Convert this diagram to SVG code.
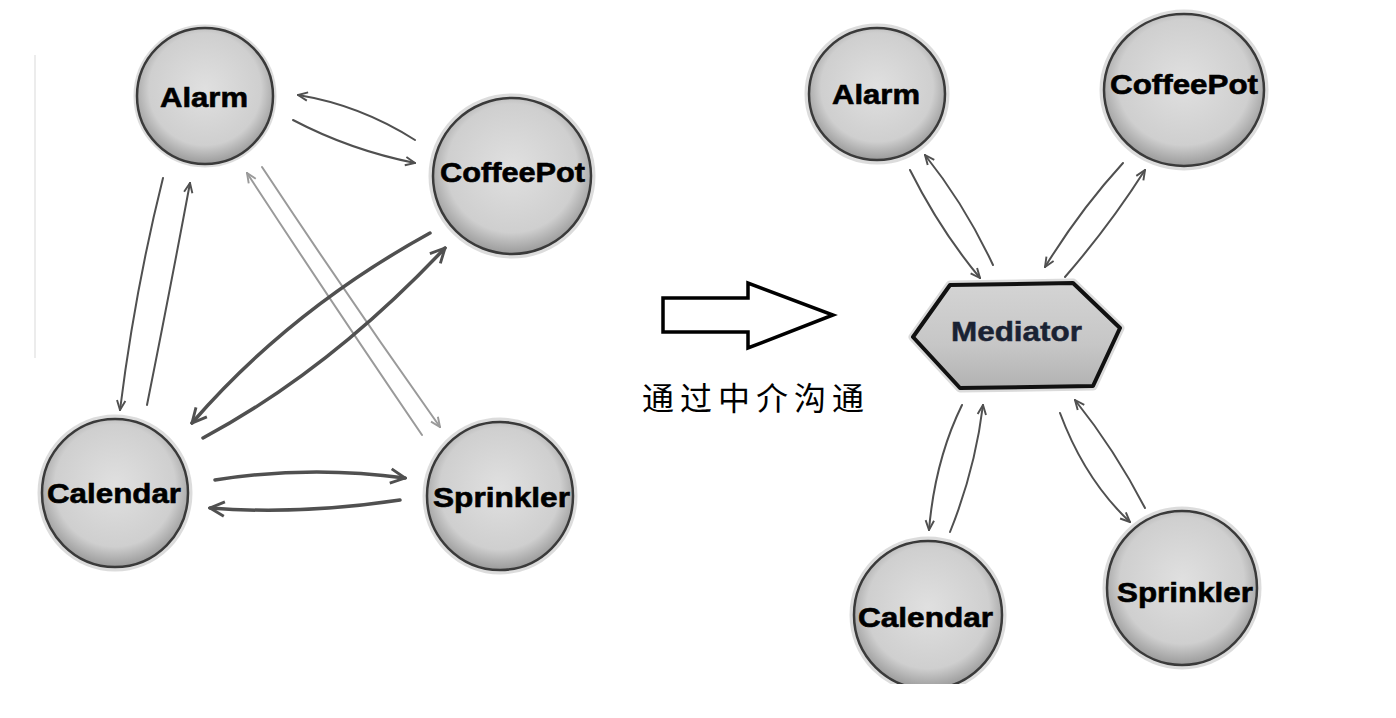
<svg xmlns="http://www.w3.org/2000/svg" width="1396" height="718" viewBox="0 0 1396 718">
<style>
.ball{fill:url(#g);stroke:#3a3a3a;stroke-width:2.5}
.halo{fill:none;stroke:#c4c4c4;stroke-width:5;opacity:0.6}
.lbl{font-family:"Liberation Sans",Arial,sans-serif;font-weight:bold;font-size:28px;fill:#000;stroke:#000;stroke-width:0.6}
.c{fill:none;stroke:#505050;stroke-width:2;stroke-linecap:round}
.thick{stroke-width:3.5}
.light{fill:none;stroke:#9a9a9a;stroke-width:2;stroke-linecap:round}
</style>
<defs>
<radialGradient id="g" cx="0.5" cy="0.45" r="0.55">
<stop offset="0" stop-color="#e0e0e0"/>
<stop offset="0.75" stop-color="#cfcfcf"/>
<stop offset="1" stop-color="#9a9a9a"/>
</radialGradient>
<linearGradient id="hg" x1="0" y1="0" x2="0" y2="1">
<stop offset="0" stop-color="#d4d4d4"/>
<stop offset="0.6" stop-color="#c6c6c6"/>
<stop offset="1" stop-color="#b2b2b2"/>
</linearGradient>
<marker id="ad" viewBox="0 0 10 10" refX="9" refY="5" markerWidth="12" markerHeight="12" orient="auto" markerUnits="userSpaceOnUse">
<path d="M1,1.5 L9,5 L1,8.5" fill="none" stroke="#505050" stroke-width="1.6"/>
</marker>
<marker id="adt" viewBox="0 0 10 10" refX="9" refY="5" markerWidth="18" markerHeight="18" orient="auto" markerUnits="userSpaceOnUse">
<path d="M1,1 L9,5 L1,9" fill="none" stroke="#505050" stroke-width="1.6"/>
</marker>
<marker id="al" viewBox="0 0 10 10" refX="9" refY="5" markerWidth="12" markerHeight="12" orient="auto" markerUnits="userSpaceOnUse">
<path d="M1,1.5 L9,5 L1,8.5" fill="none" stroke="#9a9a9a" stroke-width="1.6"/>
</marker>
<clipPath id="bottomclip"><rect x="0" y="0" width="1396" height="684"/></clipPath>
</defs>
<rect width="1396" height="718" fill="#fff"/>
<line x1="35" y1="55" x2="35" y2="358" stroke="#ececec" stroke-width="2"/>

<g id="connectors">
<path class="c" d="M415,140 Q360,105 298,95" marker-end="url(#ad)"/>
<path class="c" d="M293,120 Q350,150 415,163" marker-end="url(#ad)"/>
<path class="c" d="M163,178 Q135,290 120,410" marker-end="url(#ad)"/>
<path class="c" d="M147,405 Q170,290 190,183" marker-end="url(#ad)"/>
<path class="light" d="M262,167 Q350,300 440,427" marker-end="url(#al)"/>
<path class="light" d="M422,435 Q330,300 247,173" marker-end="url(#al)"/>
<path class="c thick" d="M430,233 Q290,310 192,423" marker-end="url(#adt)"/>
<path class="c thick" d="M203,438 Q330,370 445,248" marker-end="url(#adt)"/>
<path class="c thick" d="M215,480 Q310,465 405,478" marker-end="url(#adt)"/>
<path class="c thick" d="M400,500 Q300,515 210,508" marker-end="url(#adt)"/>

<path class="c" d="M910,170 Q940,230 980,278" marker-end="url(#ad)"/>
<path class="c" d="M993,265 Q965,205 925,155" marker-end="url(#ad)"/>
<path class="c" d="M1123,163 Q1080,210 1045,267" marker-end="url(#ad)"/>
<path class="c" d="M1065,277 Q1110,225 1145,170" marker-end="url(#ad)"/>
<path class="c" d="M962,405 Q935,460 929,530" marker-end="url(#ad)"/>
<path class="c" d="M950,532 Q975,470 983,405" marker-end="url(#ad)"/>
<path class="c" d="M1060,413 Q1085,480 1130,522" marker-end="url(#ad)"/>
<path class="c" d="M1145,508 Q1115,450 1075,400" marker-end="url(#ad)"/>
</g>

<g id="big-arrow">
<polygon points="663,298 748,298 748,283 833,315 748,348 748,332 663,332" fill="#fff" stroke="#000" stroke-width="3.5" stroke-linejoin="miter"/>
<text x="642" y="410" font-family="'Noto Sans CJK SC',sans-serif" font-size="32" letter-spacing="6" fill="#000">通过中介沟通</text>
</g>

<g id="left-alarm">
<ellipse class="halo" cx="205" cy="96" rx="69" ry="69"/>
<ellipse class="ball" cx="205" cy="96" rx="68" ry="68"/>
<text class="lbl" x="160" y="107" textLength="88" lengthAdjust="spacingAndGlyphs">Alarm</text>
</g>
<g id="left-coffeepot">
<ellipse class="halo" cx="512" cy="176" rx="81" ry="80"/>
<ellipse class="ball" cx="512" cy="176" rx="79" ry="78"/>
<text class="lbl" x="440" y="182" textLength="145" lengthAdjust="spacingAndGlyphs">CoffeePot</text>
</g>
<g id="left-calendar">
<ellipse class="halo" cx="115" cy="493" rx="75" ry="76"/>
<ellipse class="ball" cx="115" cy="493" rx="73" ry="74"/>
<text class="lbl" x="47" y="503" textLength="134" lengthAdjust="spacingAndGlyphs">Calendar</text>
</g>
<g id="left-sprinkler">
<ellipse class="halo" cx="500" cy="496" rx="75" ry="76"/>
<ellipse class="ball" cx="500" cy="496" rx="73" ry="74"/>
<text class="lbl" x="433" y="507" textLength="137" lengthAdjust="spacingAndGlyphs">Sprinkler</text>
</g>

<g id="right-alarm">
<ellipse class="halo" cx="877" cy="94" rx="70" ry="68"/>
<ellipse class="ball" cx="877" cy="94" rx="68" ry="66"/>
<text class="lbl" x="832" y="104" textLength="88" lengthAdjust="spacingAndGlyphs">Alarm</text>
</g>
<g id="right-coffeepot">
<ellipse class="halo" cx="1184" cy="90" rx="82" ry="78"/>
<ellipse class="ball" cx="1184" cy="90" rx="80" ry="76"/>
<text class="lbl" x="1110" y="94" textLength="148" lengthAdjust="spacingAndGlyphs">CoffeePot</text>
</g>
<g id="mediator">
<polygon points="950,285 1073,283 1120,328 1093,386 960,388 913,337" fill="url(#hg)" stroke="#ccc" stroke-width="9" stroke-linejoin="round" opacity="0.7"/>
<polygon points="950,285 1073,283 1120,328 1093,386 960,388 913,337" fill="url(#hg)" stroke="#111" stroke-width="4" stroke-linejoin="round"/>
<text x="951" y="341" font-family="'Liberation Sans',Arial,sans-serif" font-weight="bold" font-size="28" fill="#1a2233" stroke="#1a2233" stroke-width="0.5" textLength="131" lengthAdjust="spacingAndGlyphs">Mediator</text>
</g>
<g id="right-calendar" clip-path="url(#bottomclip)">
<ellipse class="halo" cx="928" cy="615" rx="76" ry="76"/>
<ellipse class="ball" cx="928" cy="615" rx="74" ry="74"/>
<text class="lbl" x="858" y="627" textLength="135" lengthAdjust="spacingAndGlyphs">Calendar</text>
</g>
<g id="right-sprinkler">
<ellipse class="halo" cx="1182" cy="588" rx="77" ry="79"/>
<ellipse class="ball" cx="1182" cy="588" rx="75" ry="77"/>
<text class="lbl" x="1117" y="602" textLength="136" lengthAdjust="spacingAndGlyphs">Sprinkler</text>
</g>
</svg>
